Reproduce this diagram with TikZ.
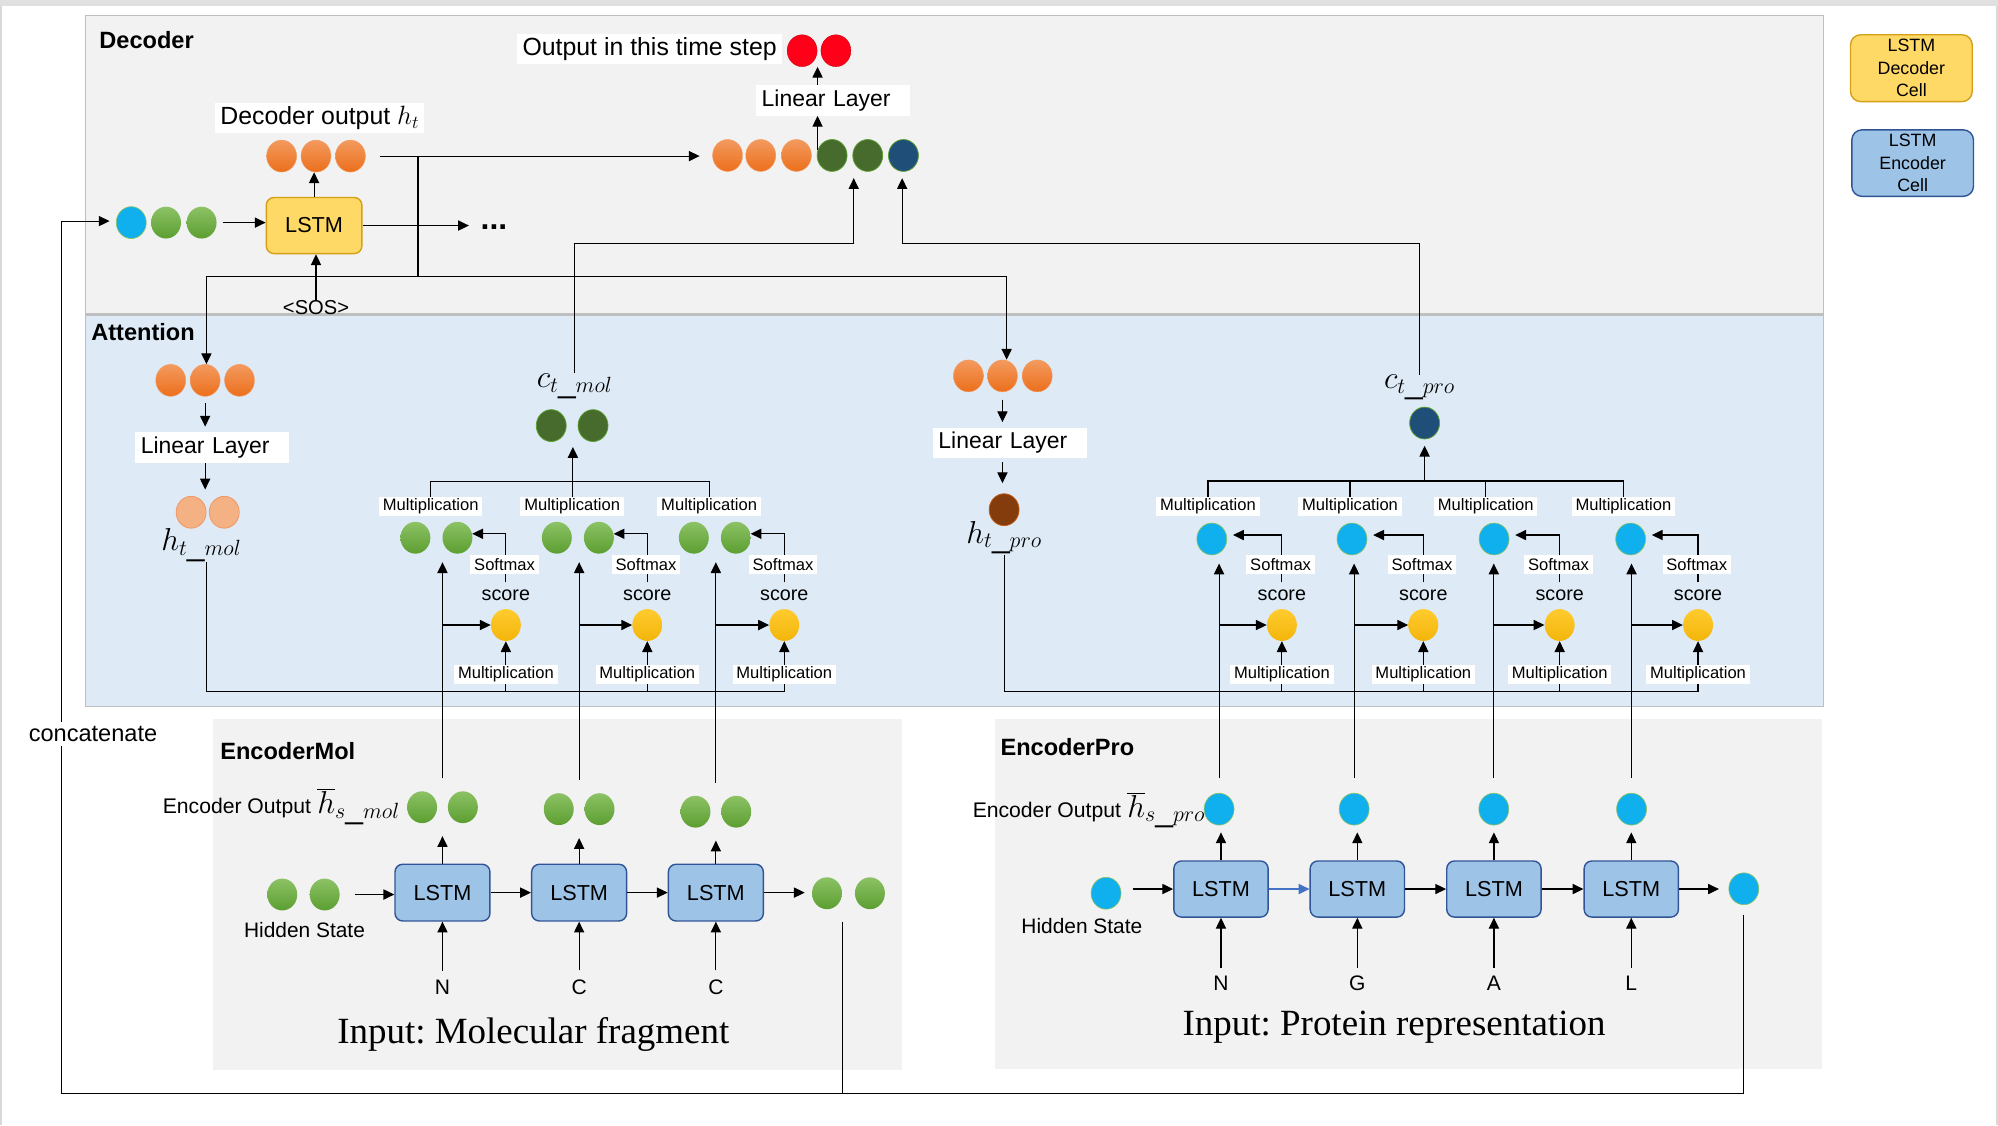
\documentclass[tikz,border=0pt]{standalone}
\usepackage{fontspec}
\setmainfont{Liberation Sans}
\newfontfamily\rmser{Liberation Serif}
\usetikzlibrary{arrows.meta,shapes.geometric}
\definecolor{painel}{HTML}{F2F2F2}
\definecolor{atencao}{HTML}{DEEBF7}
\definecolor{borda}{HTML}{BFBFBF}
\definecolor{orgA}{HTML}{F39A5E}
\definecolor{orgB}{HTML}{EC6F1C}
\definecolor{grnA}{HTML}{8CC265}
\definecolor{grnB}{HTML}{5C9E31}
\definecolor{dgrn}{HTML}{476B2C}
\definecolor{navy}{HTML}{1F4E79}
\definecolor{cyan1}{HTML}{10B0EF}
\definecolor{redd}{HTML}{FF0019}
\definecolor{ylwA}{HTML}{FFCB2E}
\definecolor{ylwB}{HTML}{F3B50B}
\definecolor{lorg}{HTML}{F4B183}
\definecolor{lorgB}{HTML}{F19660}
\definecolor{brown1}{HTML}{843C0C}
\definecolor{brownB}{HTML}{C55A11}
\definecolor{decF}{HTML}{FFD966}
\definecolor{decB}{HTML}{D4A017}
\definecolor{encF}{HTML}{9DC3E6}
\definecolor{encB}{HTML}{2F5597}
\definecolor{arrB}{HTML}{4472C4}
\newcommand{\fsz}[2]{\fontsize{#1}{#2}\selectfont}
\frenchspacing
\begin{document}
\begin{tikzpicture}[x=1pt, y=-1pt,
  blob/.style={ellipse, minimum width=23.5pt, minimum height=25pt, inner sep=0pt},
  org/.style={blob, top color=orgA, bottom color=orgB, draw=orgB!70, line width=0.4pt},
  grn/.style={blob, top color=grnA, bottom color=grnB},
  dgr/.style={blob, fill=dgrn, draw=grnB, line width=0.6pt},
  nvy/.style={blob, fill=navy, draw=grnB, line width=0.6pt},
  cyn/.style={blob, fill=cyan1, draw=grnA, line width=0.5pt},
  rdot/.style={blob, fill=redd, draw=redd!80!black, line width=0.3pt},
  ylw/.style={blob, top color=ylwA, bottom color=ylwB},
  lor/.style={blob, fill=lorg, draw=lorgB, line width=0.6pt},
  brn/.style={blob, fill=brown1, draw=brownB, line width=0.6pt},
  dcell/.style={draw=decB, fill=decF, rounded corners=6pt, line width=1.1pt,
        minimum width=75pt, minimum height=44pt, font=\fsz{17}{20}},
  ecell/.style={draw=encB, fill=encF, rounded corners=6pt, line width=1.1pt,
        minimum width=74.5pt, minimum height=44.5pt, font=\fsz{17}{20}},
  wbox/.style={fill=white, inner xsep=4pt, inner ysep=2.5pt, font=\fsz{19.5}{22}},
  lbox/.style={fill=white, font=\fsz{18}{20}, text width=112pt, inner xsep=4.3pt,
        minimum height=24pt, align=left},
  sml/.style={fill=white, font=\fsz{13}{15}, inner xsep=3pt, inner ysep=1.4pt, minimum height=15pt},
  scr/.style={font=\fsz{15.5}{17}, inner sep=0pt},
  ttl/.style={font=\bfseries\fsz{18.5}{22}, anchor=base west, inner sep=0pt},
  mth/.style={font=\fsz{25}{27}, inner sep=0pt},
  ltr/.style={font=\fsz{16.5}{18}, inner sep=0pt},
  arr/.style={line width=0.9pt, -{Triangle[length=8.5pt,width=8pt]}},
  ln/.style={line width=0.9pt},
]
  \useasboundingbox (0,0) rectangle (1568,883);
  \fill[black!12] (0,0) rectangle (1568,5);
  \draw[black!15, line width=1.5pt] (1,5) -- (1,883);
  \draw[black!15, line width=1.5pt] (1567,5) -- (1567,883);
  \filldraw[fill=painel, draw=borda, line width=1pt] (67,12) rectangle (1431,246.5);
  \filldraw[fill=atencao, draw=borda, line width=1pt] (67,247.5) rectangle (1431,554.5);
  \fill[painel] (167,564) rectangle (708,840);
  \fill[painel] (781,564) rectangle (1430,839);

  \node[dcell, minimum width=95.5pt, minimum height=52.5pt, rounded corners=8pt, align=center,
        font=\fsz{14}{17.8}] (legd) at (1500,53.5) {LSTM\\Decoder\\Cell};
  \node[ecell, minimum width=95.5pt, minimum height=52pt, rounded corners=8pt, align=center,
        font=\fsz{14}{17.8}] (lege) at (1501,128) {LSTM\\Encoder\\Cell};

  \node[ttl] (tdec) at (77.8,37.9) {Decoder};
  \node[ttl] (tatt) at (71.5,267) {Attention};
  \node[ttl] (tmol) at (172.7,596) {EncoderMol};
  \node[ttl] (tpro) at (785,592.6) {EncoderPro};

  % decoder
  \node[wbox] (tout) at (509.8,38.3) {Output in this time step};
  \node[rdot] (r1) at (629.5,39.8) {};
  \node[rdot] (r2) at (656,39.8) {};
  \node[lbox] (lint) at (653.75,78.75) {Linear Layer};
  \node[org] (c1) at (571,122) {};
  \node[org] (c2) at (597,122) {};
  \node[org] (c3) at (625,122) {};
  \node[dgr] (c4) at (653,122) {};
  \node[dgr] (c5) at (681,122) {};
  \node[nvy] (c6) at (709,122) {};
  \draw[arr] (c4.160) -- (c4.160 |- lint.south);
  \draw[arr] (c4.160 |- lint.north) -- (c4.160 |- r1.south);

  \node[wbox] (hlab) at (251,92.5) {Decoder output $h_t$};
  \node[org] (h1) at (221,122.5) {};
  \node[org] (h2) at (248,122.5) {};
  \node[org] (h3) at (275,122.5) {};
  \node[dcell] (ld) at (246.5,177) {LSTM};
  \node[cyn] (d1) at (103,174.7) {};
  \node[grn] (d2) at (130.3,174.7) {};
  \node[grn] (d3) at (158.2,174.7) {};
  \node[font=\bfseries\fsz{25}{27}, inner sep=0pt, anchor=base west] (dots) at (377,180) {...};
  \node[ltr, font=\fsz{15.8}{18}] (sos) at (248,241) {<SOS>};
  \draw[arr] (ld.north) -- (ld.north |- h2.south);
  \draw[arr, shorten <=5pt] (d3.east) -- (d3.east -| ld.west);
  \draw[arr, shorten >=9pt] (ld.east) -- (ld.east -| dots.west);
  \draw[arr] (sos.north) -- (sos.north |- ld.south);
  \draw[arr, shorten <=11pt, shorten >=10pt] (h3.east) -- (h3.east -| c1.west);

  \coordinate (j1) at (328,122.5);
  \coordinate (j2) at (328,217);
  \coordinate (j3) at (162,217);
  \coordinate (j4) at (790,217);
  \coordinate (k1) at (670,191);
  \coordinate (k2) at (708,191);
  \coordinate (hb1) at (162,543);
  \coordinate (hb2) at (788,543);
  \draw[ln] (j1) -- (j2);
  \draw[ln] (j3) -- (j4);

  % attention
  \node[org] (a1) at (134,298.5) {};
  \node[org] (a2) at (161,298.5) {};
  \node[org] (a3) at (188,298.5) {};
  \node[lbox] (linl) at (166.5,351) {Linear Layer};
  \node[lor] (hm1) at (150,402) {};
  \node[lor] (hm2) at (176,402) {};
  \node[mth] (hmol) at (158,428) {$h_{t\_mol}$};
  \draw[arr] (j3) -- (j3 |- a2.north);
  \draw[arr, shorten <=5pt, shorten >=4pt] (a2.south) -- (a2.south |- linl.north);
  \draw[arr, shorten >=5pt] (a2.south |- linl.south) -- (a2.south |- hm1.north);

  \node[org] (p1) at (760,295) {};
  \node[org] (p2) at (786.7,295) {};
  \node[org] (p3) at (814,295) {};
  \node[lbox] (linr) at (792.5,347.5) {Linear Layer};
  \node[brn] (hp) at (788,400) {};
  \node[mth] (hprol) at (788,422) {$h_{t\_pro}$};
  \draw[arr] (j4) -- (j4 |- p2.north);
  \draw[arr, shorten <=6pt, shorten >=4pt] (p2.south) -- (p2.south |- linr.north);
  \draw[arr, shorten <=3pt, shorten >=8pt] (p2.south |- linr.south) -- (p2.south |- hp.north);

  \node[dgr] (cm1) at (432.6,334) {};
  \node[dgr] (cm2) at (465.4,334) {};
  \node[mth] (ctml) at (451,303) {$c_{t\_mol}$};
  \node[nvy] (ctp) at (1118,332) {};
  \node[mth] (ctpl) at (1114,304) {$c_{t\_pro}$};
  \draw[arr, shorten >=5pt] (ctml.north) |- (k1) -- (k1 |- c4.south);
  \draw[arr, shorten >=5pt] (ctpl.north) |- (k2) -- (k2 |- c6.south);

  % encoders
  \foreach \x/\y/\lt/\n in {347.25/633.5/N/1,454.5/635/C/2,561.8/637/C/3}{
    \node[ecell] (lm\n) at (\x,700.5) {LSTM};
    \node[grn] (ema\n) at ({\x-16},\y) {};
    \node[grn] (emb\n) at ({\x+16},\y) {};
    \node[ltr] (im\n) at (\x,774.5) {\lt};
    \draw[arr, shorten <=7pt] (im\n.north) -- (lm\n.south);
    \draw[arr, shorten >=10pt] (lm\n.north) -- (lm\n.north |- ema\n.south);
  }
  \node[grn] (hs1) at (221.5,702) {};
  \node[grn] (hs2) at (254.8,702) {};
  \node[ltr, font=\fsz{16.4}{18}] (hsl) at (239,730) {Hidden State};
  \node[grn] (fm1) at (649,701) {};
  \node[grn] (fm2) at (682.7,701) {};
  \draw[arr, shorten <=11.5pt] (hs2.east) -- (hs2.east -| lm1.west);
  \draw[arr] (lm1.east) -- (lm2.west);
  \draw[arr] (lm2.east) -- (lm3.west);
  \draw[arr, shorten >=5.5pt] (lm3.east) -- (lm3.east -| fm1.west);
  \node[anchor=east, inner sep=0pt] (eoml) at (314,633)
    {{\fsz{16.6}{18}Encoder Output}\hspace{5pt}{\fsz{25}{27}$\overline{h}_{s\_mol}$}};
  \node[anchor=base, inner sep=0pt, font=\rmser\fsz{29}{32}] (inm) at (418.5,819) {Input: Molecular fragment};

  \foreach \x/\e/\lt/\n in {958.2/956.7/N/1,1065.2/1062.7/G/2,1172.4/1172.3/A/3,1280.2/1280.4/L/4}{
    \node[ecell, minimum width=74pt, minimum height=44pt] (lp\n) at (\x,697.7) {LSTM};
    \node[cyn] (ep\n) at (\e,635) {};
    \node[ltr] (ip\n) at (\x,771.5) {\lt};
    \draw[arr, shorten <=6pt] (ip\n.north) -- (lp\n.south);
    \draw[arr, shorten >=5.5pt] (lp\n.north) -- (lp\n.north |- ep\n.south);
  }
  \node[cyn] (hsp) at (868,701) {};
  \node[ltr, font=\fsz{16.4}{18}] (hspl) at (849,727) {Hidden State};
  \node[cyn] (fp) at (1368.5,697.5) {};
  \draw[arr, shorten <=9pt] (hsp.east |- lp1.west) -- (lp1.west);
  \draw[arr, color=arrB] (lp1.east) -- (lp2.west);
  \draw[arr] (lp2.east) -- (lp3.west);
  \draw[arr] (lp3.east) -- (lp4.west);
  \draw[arr, shorten >=7.5pt] (lp4.east) -- (lp4.east -| fp.west);
  \node[anchor=east, inner sep=0pt] (eopl) at (946,636)
    {{\fsz{16.6}{18}Encoder Output}\hspace{5pt}{\fsz{25}{27}$\overline{h}_{s\_pro}$}};
  \node[anchor=base, inner sep=0pt, font=\rmser\fsz{29}{32}] (inp) at (1094,812.3) {Input: Protein representation};

  % attention units
  \foreach \s/\n in {397/1,508/2,615.5/3}{
    \node[ylw] (sm\n) at (\s,490.5) {};
    \node[scr] (sc\n) at (\s,467.5) {score};
    \node[grn] (wa\n) at ({\s-71},422) {};
    \node[grn] (wb\n) at ({\s-38},422) {};
    \draw[arr, shorten <=6pt] (sc\n.north) -- (sc\n.north |- wb\n.15) -- (wb\n.15);
    \draw[arr, shorten <=10pt, shorten >=6.5pt] (lm\n.north |- ema\n.north) -- (lm\n.north |- wa\n.south);
    \draw[arr] (lm\n.north |- sm\n.west) -- (sm\n.west);
    \draw[arr] (sm\n.south |- hb1) -- (sm\n.south);
    \node[sml] (mb\n) at (\s,529) {Multiplication};
    \node[sml] (sx\n) at ({\s-1},443) {Softmax};
    \node[sml] (mt\n) at ({\s-59},397.5) {Multiplication};
  }
  \foreach \s/\bx/\mx/\n in {1006/951/948/1,1117/1061/1059.5/2,1224/1172.5/1166/3,1332.6/1279.7/1274/4}{
    \node[ylw] (sp\n) at (\s,490.5) {};
    \node[scr] (scp\n) at (\s,467.5) {score};
    \node[cyn] (wp\n) at (\bx,423) {};
    \draw[arr, shorten <=6pt, shorten >=5pt] (scp\n.north) -- (scp\n.north |- wp\n.15) -- (wp\n.15);
    \draw[arr, shorten <=12pt, shorten >=6.5pt] (ep\n.north) -- (ep\n.north |- wp\n.south);
    \draw[arr] (ep\n.north |- sp\n.west) -- (sp\n.west);
    \draw[arr] (sp\n.south |- hb2) -- (sp\n.south);
    \node[sml] (mbp\n) at (\s,529) {Multiplication};
    \node[sml] (sxp\n) at ({\s-1},443) {Softmax};
    \node[sml] (mtp\n) at (\mx,397.5) {Multiplication};
  }
  \draw[ln] (hmol.south -| hb1) -- (hb1) -- (sm3.south |- hb1);
  \draw[ln] (hprol.south -| hb2) -- (hb2) -- (sp4.south |- hb2);

  \coordinate (cbm) at (449.6,378);
  \draw[ln] (mt1.north) -- (mt1.north |- cbm) -- (mt3.north |- cbm) -- (mt3.north);
  \draw[ln] (mt2.north) -- (mt2.north |- cbm);
  \draw[arr, shorten >=4pt] (cbm) -- (cbm |- cm1.south);
  \coordinate (cbp) at (1118,377.5);
  \draw[ln] (mtp1.north) -- (mtp1.north |- cbp) -- (mtp4.north |- cbp) -- (mtp4.north);
  \draw[ln] (mtp2.north) -- (mtp2.north |- cbp);
  \draw[ln] (mtp3.north) -- (mtp3.north |- cbp);
  \draw[arr, shorten >=5pt] (cbp) -- (cbp |- ctp.south);

  % concatenate
  \coordinate (cc) at (48,173.5);
  \coordinate (cc0) at (48,858);
  \coordinate (cm0) at (661,858);
  \draw[ln, shorten <=8pt] (fp.south) -- (fp.south |- cc0);
  \draw[ln, shorten <=9.5pt] (cm0 |- fm1.south) -- (cm0);
  \draw[arr, shorten >=5pt] (fp.south |- cc0) -- (cc0) -- (cc) -- (cc -| d1.west);
  \node[fill=white, font=\fsz{18.5}{20}, inner xsep=1pt, inner ysep=3pt] (conc) at (73,576) {concatenate};
\end{tikzpicture}
\end{document}
